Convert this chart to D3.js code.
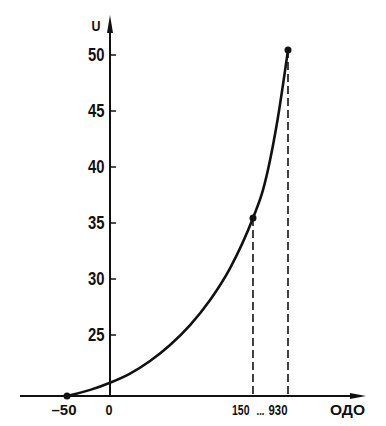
<!DOCTYPE html>
<html><head><meta charset="utf-8">
<script src="https://cdn.jsdelivr.net/npm/d3@7"></script>
<style>
html,body{margin:0;padding:0;background:#fff;}
svg{display:block;}
text{font-family:"Liberation Sans",Arial,sans-serif;font-weight:bold;fill:#111;}
</style></head>
<body>
<script>
// Data
const curveX = [-50, -23, 0, 21, 42, 63, 84, 105, 126, 150, 373, 685, 930];
const curveU = [19.55, 20.1, 20.74, 21.56, 22.68, 24.11, 25.89, 28.13, 30.98, 35.45, 37.95, 43.93, 50.45];
const pointX = [-50, 150, 930];
const pointU = [19.55, 35.45, 50.45];
const dashedX = [150, 930];
const dashedU = [35.45, 50.45];
const yTicks = [25, 30, 35, 40, 45, 50];
const xTickValues = [-50, 0];
const xTickLabels = ["\u201350", "0"];
const yLabel = "U";
const xLabel = "ОДО";
const breakLabelLeft = "150";
const breakLabelRight = "930";

const W = 386, H = 426;
const svg = d3.select("body").append("svg").attr("width", W).attr("height", H);

// Piecewise (broken) x scale: the axis is compressed between 150 and 930
const x = d3.scaleLinear().domain([-50, 0, 150, 930]).range([67, 110, 253, 288]);
const y = d3.scaleLinear().domain([20, 50]).range([391, 55]);
const axisU = 19.55;
const y0 = y(axisU);
const ink = "#111";

function squeeze(sel, w) {
  sel.attr("textLength", w).attr("lengthAdjust", "spacingAndGlyphs");
}

// X axis line with arrow
svg.append("line").attr("x1", 20).attr("x2", 356).attr("y1", y0).attr("y2", y0)
  .attr("stroke", ink).attr("stroke-width", 2);
svg.append("path").attr("d", `M366,${y0} L350,${y0-3} L350,${y0+3} Z`).attr("fill", ink);

// Y axis line with arrow
const xa = x(0);
svg.append("line").attr("x1", xa).attr("x2", xa).attr("y1", y0).attr("y2", 26)
  .attr("stroke", ink).attr("stroke-width", 2);
svg.append("path").attr("d", `M${xa},15 L${xa-3},33 L${xa+3},33 Z`).attr("fill", ink);

// Y ticks (to the right of the axis) and labels
const yg = svg.append("g");
yg.selectAll("line").data(yTicks).join("line")
  .attr("x1", xa).attr("x2", xa + 6).attr("y1", d => y(d)).attr("y2", d => y(d))
  .attr("stroke", ink).attr("stroke-width", 1.5);
yg.selectAll("text").data(yTicks).join("text")
  .attr("x", xa - 5.5).attr("y", d => y(d) + 6.3)
  .attr("text-anchor", "end").attr("font-size", 17.5).text(d => d)
  .call(squeeze, 16.5);

svg.append("text").attr("x", 96).attr("y", 30.5).attr("text-anchor", "middle")
  .attr("font-size", 14.5).text(yLabel).call(squeeze, 9);

// X tick labels
const by = 415;
svg.append("text").attr("x", x(-50) - 3).attr("y", by).attr("text-anchor", "middle")
  .attr("font-size", 15).text(xTickLabels[0]).call(squeeze, 25);
svg.append("text").attr("x", x(0) - 1).attr("y", by).attr("text-anchor", "middle")
  .attr("font-size", 15).text(xTickLabels[1]).call(squeeze, 7);
svg.append("text").attr("x", x(150) - 3.5).attr("y", by).attr("text-anchor", "end")
  .attr("font-size", 15).text(breakLabelLeft).call(squeeze, 17.5);
svg.append("text").attr("x", (x(150) + x(930)) / 2 - 10).attr("y", by).attr("text-anchor", "middle")
  .attr("font-size", 12).text("...").call(squeeze, 8);
svg.append("text").attr("x", x(930) - 0.5).attr("y", by).attr("text-anchor", "end")
  .attr("font-size", 15).text(breakLabelRight).call(squeeze, 19);
svg.append("text").attr("x", 347.5).attr("y", by).attr("text-anchor", "middle")
  .attr("font-size", 15).text(xLabel).call(squeeze, 35);

// Dashed drop lines
svg.selectAll(".drop").data(dashedX).join("line").attr("class", "drop")
  .attr("x1", d => x(d)).attr("x2", d => x(d))
  .attr("y1", (d, i) => y(dashedU[i])).attr("y2", y0)
  .attr("stroke", ink).attr("stroke-width", 1.6).attr("stroke-dasharray", "8,4");

// Curve
const pts = curveX.map((v, i) => [x(v), y(curveU[i])]);
svg.append("path").attr("d", d3.line().curve(d3.curveMonotoneX)(pts))
  .attr("fill", "none").attr("stroke", ink).attr("stroke-width", 2.6);

// Points
svg.selectAll(".pt").data(pointX).join("circle").attr("class", "pt")
  .attr("cx", d => x(d)).attr("cy", (d, i) => y(pointU[i])).attr("r", 3.5).attr("fill", ink);
</script>
</body></html>
